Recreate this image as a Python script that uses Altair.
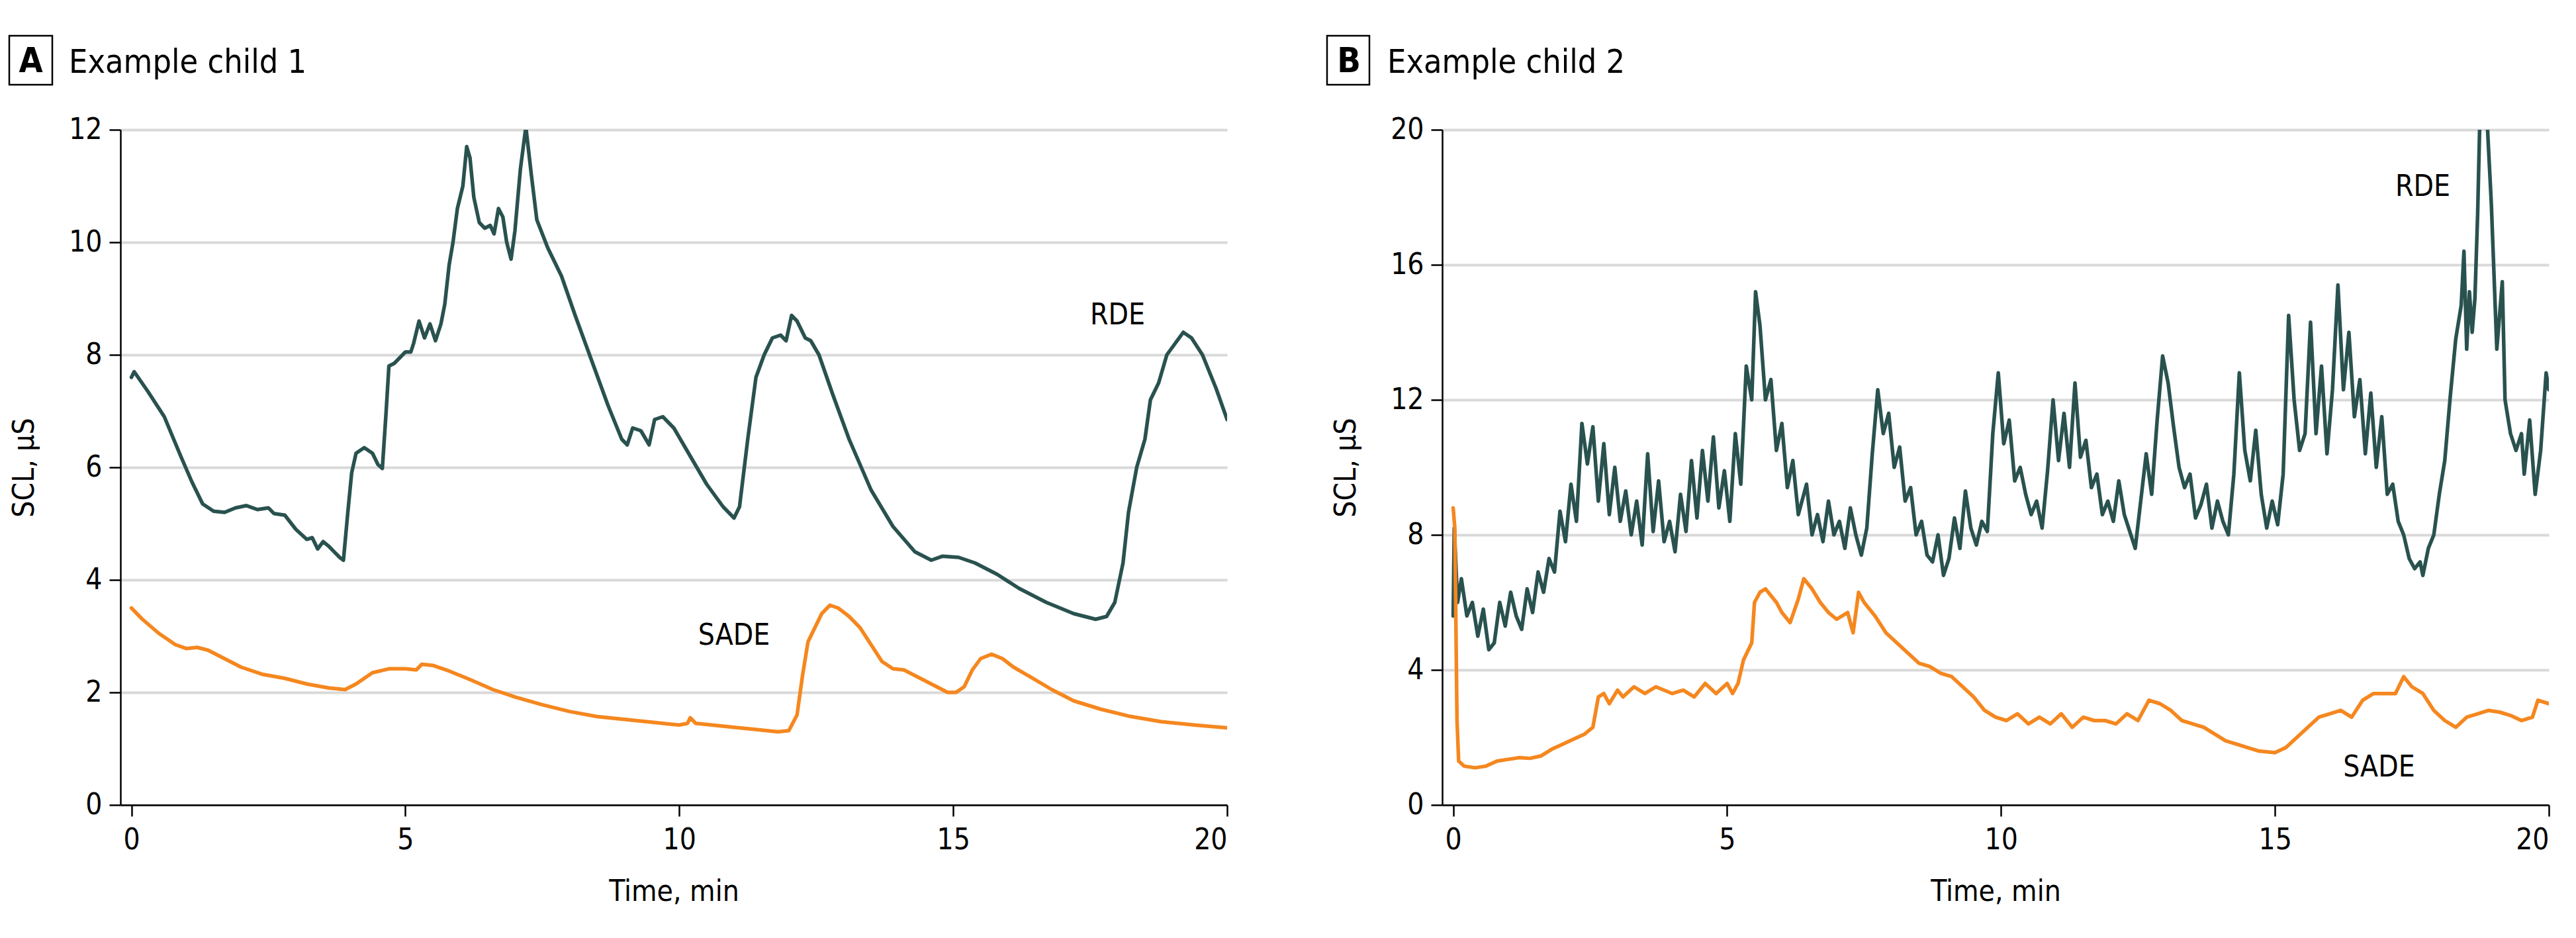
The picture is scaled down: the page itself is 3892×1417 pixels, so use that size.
import altair as alt
import pandas as pd

FONT = "DejaVu Sans Condensed"
TEAL = "#29524f"
ORANGE = "#f5871f"

# ---------------- Panel A (Example child 1) ----------------
a_rde_t = [0.0, 0.05, 0.3, 0.6, 0.9, 1.1, 1.3, 1.5, 1.7, 1.9, 2.1, 2.3, 2.5, 2.6, 2.8, 3.0, 3.2, 3.3,
           3.4, 3.5, 3.6, 3.8, 3.87, 3.95, 4.02, 4.1, 4.25, 4.4, 4.5, 4.58, 4.65, 4.7, 4.8, 4.9, 5.0,
           5.1, 5.15, 5.25, 5.35, 5.45, 5.55, 5.65, 5.72, 5.8, 5.87, 5.95, 6.05, 6.12, 6.18, 6.25,
           6.35, 6.45, 6.55, 6.62, 6.7, 6.78, 6.85, 6.93, 7.0, 7.1, 7.2, 7.3, 7.4, 7.6, 7.85, 8.1,
           8.4, 8.7, 8.95, 9.05, 9.15, 9.3, 9.45, 9.55, 9.7, 9.9, 10.2, 10.5, 10.8, 11.0, 11.1,
           11.25, 11.4, 11.55, 11.7, 11.85, 11.95, 12.05, 12.15, 12.3, 12.4, 12.55, 12.8, 13.1,
           13.5, 13.9, 14.3, 14.6, 14.8, 15.1, 15.4, 15.8, 16.2, 16.7, 17.2, 17.6, 17.8, 17.95,
           18.1, 18.2, 18.35, 18.5, 18.6, 18.75, 18.9, 19.05, 19.2, 19.35, 19.55, 19.8, 20.0]
a_rde_v = [7.6, 7.7, 7.35, 6.9, 6.2, 5.75, 5.35, 5.22, 5.2, 5.28, 5.32, 5.25, 5.28, 5.18, 5.15, 4.9,
           4.72, 4.75, 4.55, 4.68, 4.6, 4.4, 4.35, 5.2, 5.9, 6.25, 6.35, 6.25, 6.05, 5.98, 7.0, 7.8,
           7.85, 7.95, 8.05, 8.05, 8.2, 8.6, 8.3, 8.55, 8.25, 8.55, 8.9, 9.6, 10.0, 10.6, 11.0,
           11.7, 11.5, 10.8, 10.35, 10.25, 10.3, 10.15, 10.6, 10.45, 10.0, 9.7, 10.2, 11.3, 12.05,
           11.2, 10.4, 9.9, 9.4, 8.7, 7.9, 7.1, 6.5, 6.4, 6.7, 6.65, 6.4, 6.85, 6.9, 6.7, 6.2,
           5.7, 5.3, 5.1, 5.3, 6.5, 7.6, 8.0, 8.3, 8.35, 8.25, 8.7, 8.6, 8.3, 8.25, 8.0, 7.3, 6.5,
           5.6, 4.95, 4.5, 4.35, 4.42, 4.4, 4.3, 4.1, 3.85, 3.6, 3.4, 3.3, 3.35, 3.6, 4.3, 5.2,
           6.0, 6.5, 7.2, 7.5, 8.0, 8.2, 8.4, 8.3, 8.0, 7.4, 6.85]

a_sade_t = [0.0, 0.2, 0.5, 0.8, 1.0, 1.2, 1.4, 1.7, 2.0, 2.4, 2.8, 3.2, 3.6, 3.9, 4.1, 4.4, 4.7, 5.0,
            5.2, 5.3, 5.5, 5.8, 6.2, 6.6, 7.0, 7.5, 8.0, 8.5, 9.0, 9.5, 10.0, 10.15, 10.2, 10.3,
            10.6, 11.0, 11.4, 11.8, 12.0, 12.15, 12.25, 12.35, 12.5, 12.6, 12.75, 12.9, 13.1, 13.3,
            13.5, 13.7, 13.9, 14.1, 14.4, 14.7, 14.9, 15.05, 15.2, 15.35, 15.5, 15.7, 15.9, 16.1,
            16.4, 16.8, 17.2, 17.7, 18.2, 18.8, 19.4, 20.0]
a_sade_v = [3.5, 3.3, 3.05, 2.85, 2.78, 2.8, 2.75, 2.6, 2.45, 2.32, 2.25, 2.15, 2.08, 2.05, 2.15, 2.35,
            2.42, 2.42, 2.4, 2.5, 2.48, 2.38, 2.22, 2.05, 1.92, 1.78, 1.66, 1.57, 1.52, 1.47, 1.42,
            1.45, 1.55, 1.45, 1.42, 1.38, 1.34, 1.3, 1.32, 1.6, 2.3, 2.9, 3.2, 3.4, 3.55, 3.5, 3.35,
            3.15, 2.85, 2.55, 2.42, 2.4, 2.25, 2.1, 2.0, 2.0, 2.1, 2.4, 2.6, 2.68, 2.6, 2.45, 2.28,
            2.05, 1.85, 1.7, 1.58, 1.48, 1.42, 1.37]

a_lab = ["RDE", "SADE"]
a_lab_t = [18.0, 11.0]
a_lab_v = [8.7, 3.0]

# ---------------- Panel B (Example child 2) ----------------
b_rde_t = [0.0, 0.02, 0.08, 0.15, 0.25, 0.35, 0.45, 0.55, 0.65, 0.75, 0.85, 0.95, 1.05, 1.15, 1.25,
           1.35, 1.45, 1.55, 1.65, 1.75, 1.85, 1.95, 2.05, 2.15, 2.25, 2.35, 2.45, 2.55, 2.65, 2.75,
           2.85, 2.95, 3.05, 3.15, 3.25, 3.35, 3.45, 3.55, 3.65, 3.75, 3.85, 3.95, 4.05, 4.15, 4.25,
           4.35, 4.45, 4.55, 4.65, 4.75, 4.85, 4.95, 5.05, 5.15, 5.25, 5.35, 5.45, 5.52, 5.6, 5.7,
           5.8, 5.9, 6.0, 6.1, 6.2, 6.3, 6.45, 6.55, 6.65, 6.75, 6.85, 6.95, 7.05, 7.15, 7.25, 7.35,
           7.45, 7.55, 7.65, 7.75, 7.85, 7.95, 8.05, 8.15, 8.25, 8.35, 8.45, 8.55, 8.65, 8.75, 8.85,
           8.95, 9.05, 9.15, 9.25, 9.35, 9.45, 9.55, 9.65, 9.75, 9.85, 9.95, 10.05, 10.15, 10.25,
           10.35, 10.45, 10.55, 10.65, 10.75, 10.85, 10.95, 11.05, 11.15, 11.25, 11.35, 11.45,
           11.55, 11.65, 11.75, 11.85, 11.95, 12.05, 12.15, 12.25, 12.35, 12.45, 12.55, 12.65,
           12.75, 12.85, 12.95, 13.05, 13.15, 13.25, 13.35, 13.45, 13.55, 13.65, 13.75, 13.85,
           13.95, 14.05, 14.15, 14.25, 14.35, 14.45, 14.55, 14.65, 14.75, 14.85, 14.95, 15.05,
           15.15, 15.25, 15.35, 15.45, 15.55, 15.65, 15.75, 15.85, 15.95, 16.05, 16.15, 16.25,
           16.35, 16.45, 16.55, 16.65, 16.75, 16.85, 16.95, 17.05, 17.15, 17.25, 17.35, 17.45,
           17.55, 17.65, 17.7, 17.8, 17.9, 18.0, 18.1, 18.2, 18.3, 18.4, 18.45, 18.5, 18.55, 18.6,
           18.65, 18.7, 18.75, 18.8, 18.85, 18.95, 19.05, 19.15, 19.2, 19.3, 19.4, 19.5, 19.55,
           19.65, 19.75, 19.85, 19.95, 20.0]
b_rde_v = [5.6, 8.2, 6.0, 6.7, 5.6, 6.0, 5.0, 5.8, 4.6, 4.8, 6.0, 5.3, 6.3, 5.6, 5.2, 6.4, 5.7, 6.9,
           6.3, 7.3, 6.9, 8.7, 7.8, 9.5, 8.4, 11.3, 10.1, 11.2, 9.0, 10.7, 8.6, 10.0, 8.4, 9.3, 8.0,
           9.0, 7.7, 10.4, 8.1, 9.6, 7.8, 8.4, 7.5, 9.2, 8.1, 10.2, 8.5, 10.5, 9.0, 10.9, 8.8, 9.9,
           8.4, 11.0, 9.5, 13.0, 12.0, 15.2, 14.2, 12.0, 12.6, 10.5, 11.3, 9.4, 10.2, 8.6, 9.5, 8.0,
           8.6, 7.8, 9.0, 8.0, 8.4, 7.6, 8.8, 8.0, 7.4, 8.2, 10.4, 12.3, 11.0, 11.6, 10.0, 10.6, 9.0,
           9.4, 8.0, 8.4, 7.4, 7.2, 8.0, 6.8, 7.3, 8.5, 7.6, 9.3, 8.2, 7.7, 8.4, 8.1, 11.0, 12.8,
           10.7, 11.4, 9.6, 10.0, 9.2, 8.6, 9.0, 8.2, 9.9, 12.0, 10.2, 11.6, 10.0, 12.5, 10.3, 10.8,
           9.4, 9.8, 8.6, 9.0, 8.4, 9.6, 8.6, 8.1, 7.6, 9.0, 10.4, 9.2, 11.4, 13.3, 12.5, 11.2, 10.0,
           9.4, 9.8, 8.5, 8.9, 9.5, 8.2, 9.0, 8.4, 8.0, 9.8, 12.8, 10.5, 9.6, 11.1, 9.2, 8.2, 9.0,
           8.3, 9.8, 14.5, 12.0, 10.5, 11.0, 14.3, 11.0, 13.0, 10.4, 12.3, 15.4, 12.3, 14.0, 11.5,
           12.6, 10.4, 12.2, 10.0, 11.5, 9.2, 9.5, 8.4, 8.0, 7.3, 7.0, 7.2, 6.8, 7.6, 8.0, 9.2, 10.2,
           12.1, 13.8, 14.8, 16.4, 13.5, 15.2, 14.0, 15.0, 17.5, 21.0, 21.0, 21.0, 17.8, 13.5, 15.5,
           12.0, 11.0, 10.5, 11.0, 9.8, 11.4, 9.2, 10.5, 12.8, 12.3]

b_sade_t = [0.0, 0.03, 0.07, 0.1, 0.2, 0.4, 0.6, 0.8, 1.0, 1.2, 1.4, 1.6, 1.8, 2.0, 2.2, 2.4, 2.55,
            2.65, 2.75, 2.85, 3.0, 3.1, 3.3, 3.5, 3.7, 4.0, 4.2, 4.4, 4.6, 4.8, 5.0, 5.1, 5.2, 5.3,
            5.45, 5.5, 5.6, 5.7, 5.8, 5.9, 6.0, 6.15, 6.3, 6.4, 6.55, 6.7, 6.85, 7.0, 7.2, 7.3, 7.4,
            7.5, 7.7, 7.9, 8.1, 8.3, 8.5, 8.7, 8.9, 9.1, 9.3, 9.5, 9.7, 9.9, 10.1, 10.3, 10.5, 10.7,
            10.9, 11.1, 11.3, 11.5, 11.7, 11.9, 12.1, 12.3, 12.5, 12.7, 12.9, 13.1, 13.3, 13.5,
            13.7, 13.9, 14.1, 14.3, 14.5, 14.7, 15.0, 15.2, 15.4, 15.6, 15.8, 16.0, 16.2, 16.4,
            16.6, 16.8, 17.0, 17.2, 17.35, 17.5, 17.7, 17.9, 18.1, 18.3, 18.5, 18.7, 18.9, 19.1,
            19.3, 19.5, 19.7, 19.8, 20.0]
b_sade_v = [8.8, 8.2, 2.5, 1.3, 1.15, 1.1, 1.15, 1.3, 1.35, 1.4, 1.38, 1.45, 1.65, 1.8, 1.95, 2.1,
            2.3, 3.2, 3.3, 3.0, 3.4, 3.2, 3.5, 3.3, 3.5, 3.3, 3.4, 3.2, 3.6, 3.3, 3.6, 3.3, 3.6, 4.3,
            4.8, 6.0, 6.3, 6.4, 6.2, 6.0, 5.7, 5.4, 6.1, 6.7, 6.4, 6.0, 5.7, 5.5, 5.7, 5.1, 6.3, 6.0,
            5.6, 5.1, 4.8, 4.5, 4.2, 4.1, 3.9, 3.8, 3.5, 3.2, 2.8, 2.6, 2.5, 2.7, 2.4, 2.6, 2.4, 2.7,
            2.3, 2.6, 2.5, 2.5, 2.4, 2.7, 2.5, 3.1, 3.0, 2.8, 2.5, 2.4, 2.3, 2.1, 1.9, 1.8, 1.7, 1.6,
            1.55, 1.7, 2.0, 2.3, 2.6, 2.7, 2.8, 2.6, 3.1, 3.3, 3.3, 3.3, 3.8, 3.5, 3.3, 2.8, 2.5,
            2.3, 2.6, 2.7, 2.8, 2.75, 2.65, 2.5, 2.6, 3.1, 3.0]

b_lab = ["RDE", "SADE"]
b_lab_t = [17.7, 16.9]
b_lab_v = [18.3, 1.1]

W, H = 1672, 1020


def panel(rde_t, rde_v, sade_t, sade_v, lab, lab_t, lab_v, ymax, ystep,
          letter, title, box_x, box_x2, letter_x, title_x):
    df = pd.concat([
        pd.DataFrame({"t": rde_t, "v": rde_v, "s": "RDE"}),
        pd.DataFrame({"t": sade_t, "v": sade_v, "s": "SADE"}),
    ])
    x = alt.X("t:Q", scale=alt.Scale(domain=[-0.2, 20], nice=False, zero=False),
              axis=alt.Axis(values=[0, 5, 10, 15, 20], format="d", title="Time, min", grid=False,
                            labelPadding=14, titlePadding=34))
    y = alt.Y("v:Q", scale=alt.Scale(domain=[0, ymax], nice=False, zero=True),
              axis=alt.Axis(values=list(range(0, ymax + 1, ystep)), format="d", title="SCL, µS",
                            grid=True, labelPadding=11, titlePadding=44))
    lines = alt.Chart(df).mark_line(strokeWidth=5.5, clip=True, strokeJoin="round",
                                    strokeCap="round").encode(
        x=x, y=y,
        color=alt.Color("s:N", scale=alt.Scale(domain=["RDE", "SADE"], range=[TEAL, ORANGE]),
                        legend=None),
    )
    labels = alt.Chart(pd.DataFrame({"t": lab_t, "v": lab_v, "s": lab})).mark_text(
        font=FONT, fontSize=44, color="black").encode(x="t:Q", y="v:Q", text="s:N")
    one = pd.DataFrame({"k": [0]})
    box = alt.Chart(one).mark_rect(fillOpacity=0, stroke="black", strokeWidth=2.5).encode(
        x=alt.value(box_x), x2=alt.value(box_x2), y=alt.value(-142), y2=alt.value(-68))
    let = alt.Chart(one).mark_text(text=letter, font=FONT, fontSize=52, fontWeight="bold",
                                   align="center", baseline="alphabetic", color="black").encode(
        x=alt.value(letter_x), y=alt.value(-87))
    ttl = alt.Chart(one).mark_text(text=title, font=FONT, fontSize=50, align="left",
                                   baseline="alphabetic", color="black").encode(
        x=alt.value(title_x), y=alt.value(-86))
    return alt.layer(lines, labels, box, let, ttl).properties(width=W, height=H)


pA = panel(a_rde_t, a_rde_v, a_sade_t, a_sade_v, a_lab, a_lab_t, a_lab_v, 12, 2,
           "A", "Example child 1", -168, -103, -135.5, -78)
pB = panel(b_rde_t, b_rde_v, b_sade_t, b_sade_v, b_lab, b_lab_t, b_lab_v, 20, 4,
           "B", "Example child 2", -174, -110, -141, -83)

chart = alt.hconcat(pA, pB, spacing=325, bounds="flush").properties(
    padding={"left": 4, "top": 44, "right": 5, "bottom": 5}
).configure_view(stroke=None).configure_axis(
    labelFont=FONT, titleFont=FONT, labelFontSize=44, titleFontSize=44,
    titleFontWeight="normal", labelColor="black", titleColor="black",
    domainColor="black", domainWidth=2.5, tickColor="black", tickWidth=2.5, tickSize=17,
    gridColor="#d9d9d9", gridWidth=4,
)

chart.save("out.html", embed_options={"renderer": "svg", "actions": False})
